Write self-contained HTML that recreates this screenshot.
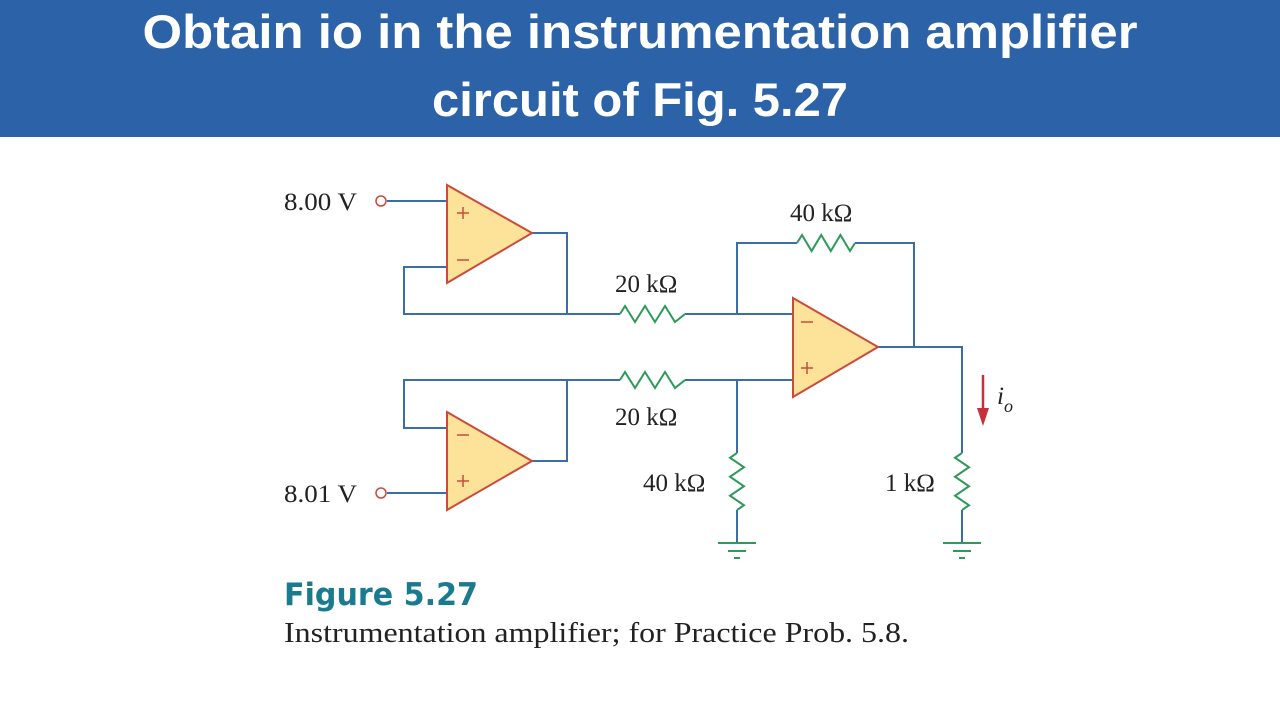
<!DOCTYPE html>
<html><head><meta charset="utf-8"><style>
html,body{margin:0;padding:0;background:#fff;width:1280px;height:720px;overflow:hidden}
</style></head><body>
<svg width="1280" height="720" xmlns="http://www.w3.org/2000/svg">
<rect x="0" y="0" width="1280" height="137" fill="#2c62a8"/>
<g font-family="Liberation Sans, sans-serif" font-weight="bold" fill="#fff" font-size="47" text-anchor="middle">
<text x="640" y="48" textLength="995" lengthAdjust="spacingAndGlyphs">Obtain io in the instrumentation amplifier</text>
<text x="640" y="116" textLength="416" lengthAdjust="spacingAndGlyphs">circuit of Fig. 5.27</text>
</g>
<g fill="none" stroke="#3b6ea5" stroke-width="2">
<path d="M387 201H447"/>
<path d="M532 233H567V314H404V267H447"/>
<path d="M567 314H620M685 314H793"/>
<path d="M387 493H447"/>
<path d="M532 461H567V380H404V428H447"/>
<path d="M567 380H620M685 380H793"/>
<path d="M737 314V243H797M855 243H914V347"/>
<path d="M878 347H962V453M962 510V543"/>
<path d="M737 380V453M737 510V543"/>
</g>
<g fill="none" stroke="#2e9a5a" stroke-width="2">
<path d="M620 314l5 -8l10 16l10 -16l10 16l10 -16l10 16l10 -8"/>
<path d="M620 380l5 -8l10 16l10 -16l10 16l10 -16l10 16l10 -8"/>
<path d="M797 243l5 -8l9.6 16l9.6 -16l9.6 16l9.6 -16l9.6 16l5 -8"/>
<path d="M737 453l-7 4.75l14 9.5l-14 9.5l14 9.5l-14 9.5l14 9.5l-7 4.75"/>
<path d="M962 453l-7 4.75l14 9.5l-14 9.5l14 9.5l-14 9.5l14 9.5l-7 4.75"/>
<path d="M718 543h38M728 551h18M734 558h6"/>
<path d="M943 543h38M953 551h18M959 558h6"/>
</g>
<g fill="#fde39a" stroke="#cc4a3a" stroke-width="2">
<path d="M447 185L532 233L447 283Z"/>
<path d="M447 412L532 461L447 510Z"/>
<path d="M793 298L878 347L793 397Z"/>
</g>
<g stroke="#cc4a3a" stroke-width="1.5" fill="none">
<path d="M457 213h12M463 207v12M457 260h12"/>
<path d="M457 435h12M457 481h12M463 475v12"/>
<path d="M801 322h12M801 368h12M807 362v12"/>
<circle cx="381" cy="201" r="5" fill="#fff"/>
<circle cx="381" cy="493" r="5" fill="#fff"/>
</g>
<path d="M983 375V412" stroke="#c4313a" stroke-width="2.5"/>
<path d="M977 408L983 426L989 408Z" fill="#c4313a"/>
<g font-family="Liberation Serif, serif" font-size="25" fill="#222">
<text x="284" y="210" textLength="73" lengthAdjust="spacingAndGlyphs">8.00 V</text>
<text x="284" y="502" textLength="73" lengthAdjust="spacingAndGlyphs">8.01 V</text>
<text x="790" y="221">40 kΩ</text>
<text x="615" y="292">20 kΩ</text>
<text x="615" y="425">20 kΩ</text>
<text x="643" y="491">40 kΩ</text>
<text x="885" y="491">1 kΩ</text>
<text x="997" y="404" font-style="italic">i</text>
<text x="1004" y="412" font-style="italic" font-size="18">o</text>
<text x="284" y="642" font-size="29" textLength="625" lengthAdjust="spacingAndGlyphs">Instrumentation amplifier; for Practice Prob. 5.8.</text>
</g>
<text x="284" y="605" font-family="DejaVu Sans, sans-serif" font-weight="bold" font-size="31" fill="#1b7b8e" textLength="194" lengthAdjust="spacingAndGlyphs">Figure 5.27</text>
</svg>
</body></html>
